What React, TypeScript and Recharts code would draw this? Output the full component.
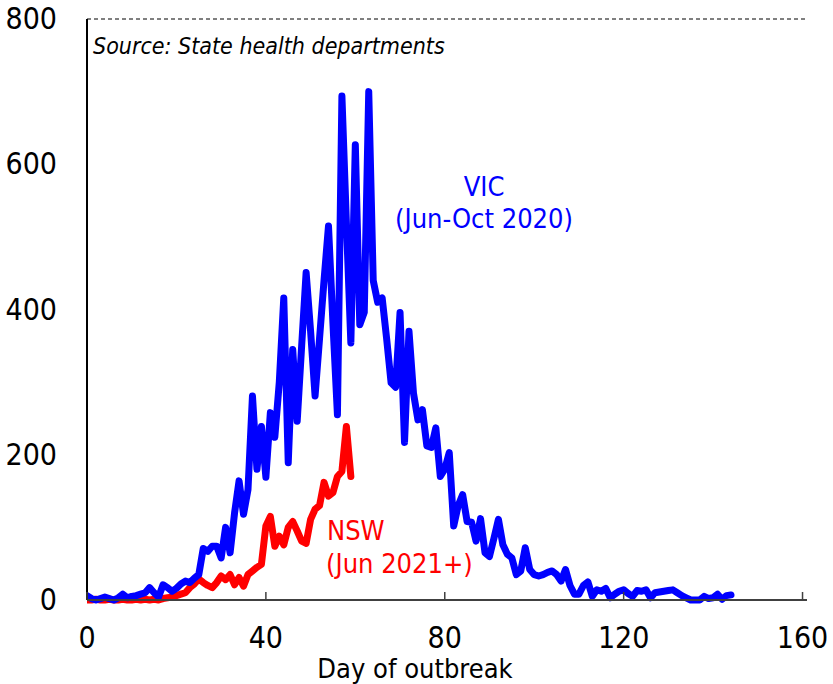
import React from "react";
import {
  LineChart,
  Line,
  XAxis,
  YAxis,
  CartesianGrid,
} from "recharts";

// Daily new cases, VIC outbreak (Jun-Oct 2020), day 0..144
const vicCases: number[] = [
  6, 2, 0, 2, 4, 2, 0, 3, 8, 3,
  5, 6, 8, 10, 17, 10, 4, 21, 17, 12,
  16, 22, 26, 24, 30, 35, 71, 67, 74, 74,
  58, 100, 65, 120, 164, 118, 152, 281, 180, 239,
  169, 258, 224, 300, 416, 189, 345, 246, 350, 451,
  370, 281, 360, 440, 515, 380, 255, 694, 520, 354,
  627, 379, 396, 700, 440, 410, 416, 360, 299, 293,
  396, 217, 370, 285, 248, 262, 212, 210, 237, 170,
  180, 203, 102, 130, 145, 108, 107, 81, 112, 65,
  60, 85, 111, 76, 63, 58, 35, 40, 72, 42,
  35, 33, 35, 38, 40, 35, 26, 42, 20, 8,
  8, 20, 25, 5, 14, 12, 16, 3, 8, 12,
  14, 9, 5, 13, 12, 14, 3, 10, 11, 12,
  13, 14, 10, 6, 3, 0, 0, 0, 5, 2,
  3, 8, 1, 6, 7,
];

// Daily new cases, NSW outbreak (Jun 2021+), day 0..59
const nswCases: number[] = [
  0, 0, 1, 0, 0, 1, 0, 0, 1, 0,
  0, 1, 0, 1, 0, 1, 0, 2, 3, 4,
  6, 8, 10, 17, 22, 29, 24, 20, 17, 24,
  33, 28, 35, 21, 31, 19, 35, 40, 45, 49,
  102, 115, 74, 88, 76, 100, 108, 95, 81, 78,
  111, 125, 130, 162, 143, 148, 170, 177, 239, 170,
];

const xTicks: number[] = [0, 40, 80, 120, 160];
const yTicks: number[] = [0, 200, 400, 600, 800];

const data = vicCases.map((v, i) => ({
  day: i,
  vic: v,
  nsw: i < nswCases.length ? nswCases[i] : null,
}));

const FONT = "'DejaVu Sans Condensed', 'DejaVu Sans', sans-serif";

const XTick = (props: any) => {
  const { x, y, payload } = props;
  return (
    <g>
      <line x1={x} y1={y} x2={x} y2={y - 8} stroke="#404040" strokeWidth={1.5} />
      <text
        x={x}
        y={y + 48}
        textAnchor="middle"
        fill="#000"
        fontSize={30}
        fontFamily={FONT}
      >
        {payload.value}
      </text>
    </g>
  );
};

const YTick = (props: any) => {
  const { y, payload } = props;
  return (
    <text
      x={57}
      y={y + 10}
      textAnchor="end"
      fill="#000"
      fontSize={30}
      fontFamily={FONT}
    >
      {payload.value}
    </text>
  );
};

const Note = ({
  children,
  left,
  top,
  color,
  size,
  italic,
  center,
}: any) => (
  <div
    style={{
      position: "absolute",
      left,
      top,
      color,
      fontSize: size,
      lineHeight: 1,
      fontFamily: FONT,
      fontStyle: italic ? "italic" : "normal",
      whiteSpace: "nowrap",
      transform: center ? "translateX(-50%)" : undefined,
    }}
  >
    {children}
  </div>
);

export default function App() {
  return (
    <div
      style={{
        position: "absolute",
        left: 0,
        top: 0,
        width: 833,
        height: 684,
        background: "#fff",
        overflow: "hidden",
      }}
    >
      <LineChart
        width={833}
        height={684}
        data={data}
        margin={{ top: 19, right: 26, bottom: 0, left: 0 }}
      >
        <CartesianGrid
          horizontal={true}
          vertical={false}
          stroke="#000"
          strokeDasharray="4 3"
          strokeWidth={1}
        />
        <XAxis
          dataKey="day"
          type="number"
          domain={[0, 161]}
          ticks={xTicks}
          allowDataOverflow
          height={84}
          tickSize={0}
          tickMargin={0}
          tickLine={false}
          axisLine={{ stroke: "#404040", strokeWidth: 2 }}
          tick={<XTick />}
          interval={0}
        />
        <YAxis
          yAxisId="left"
          domain={[0, 800]}
          ticks={yTicks}
          width={87}
          tickSize={0}
          tickMargin={30}
          tickLine={false}
          axisLine={{ stroke: "#000", strokeWidth: 2 }}
          tick={<YTick />}
          interval={0}
        />
        <YAxis
          yAxisId="right"
          orientation="right"
          domain={[0, 800]}
          width={0}
          tick={false}
          tickLine={false}
          axisLine={{ stroke: "#404040", strokeWidth: 1.5 }}
        />
        <Line
          yAxisId="left"
          type="linear"
          dataKey="nsw"
          stroke="#FF0000"
          strokeWidth={7}
          dot={false}
          strokeLinejoin="round"
          strokeLinecap="round"
          connectNulls={false}
          isAnimationActive={false}
        />
        <Line
          yAxisId="left"
          type="linear"
          dataKey="vic"
          stroke="#0000FF"
          strokeWidth={7}
          dot={false}
          strokeLinejoin="round"
          strokeLinecap="round"
          isAnimationActive={false}
        />
      </LineChart>
      <Note left={93} top={35} color="#000" size={23} italic>
        Source: State health departments
      </Note>
      <Note left={484} top={173} color="#0000FF" size={27} center>
        VIC
      </Note>
      <Note left={484} top={205} color="#0000FF" size={27} center>
        (Jun-Oct 2020)
      </Note>
      <Note left={327} top={517} color="#FF0000" size={27}>
        NSW
      </Note>
      <Note left={326} top={550} color="#FF0000" size={27}>
        (Jun 2021+)
      </Note>
      <Note left={415} top={655} color="#000" size={27} center>
        Day of outbreak
      </Note>
    </div>
  );
}
